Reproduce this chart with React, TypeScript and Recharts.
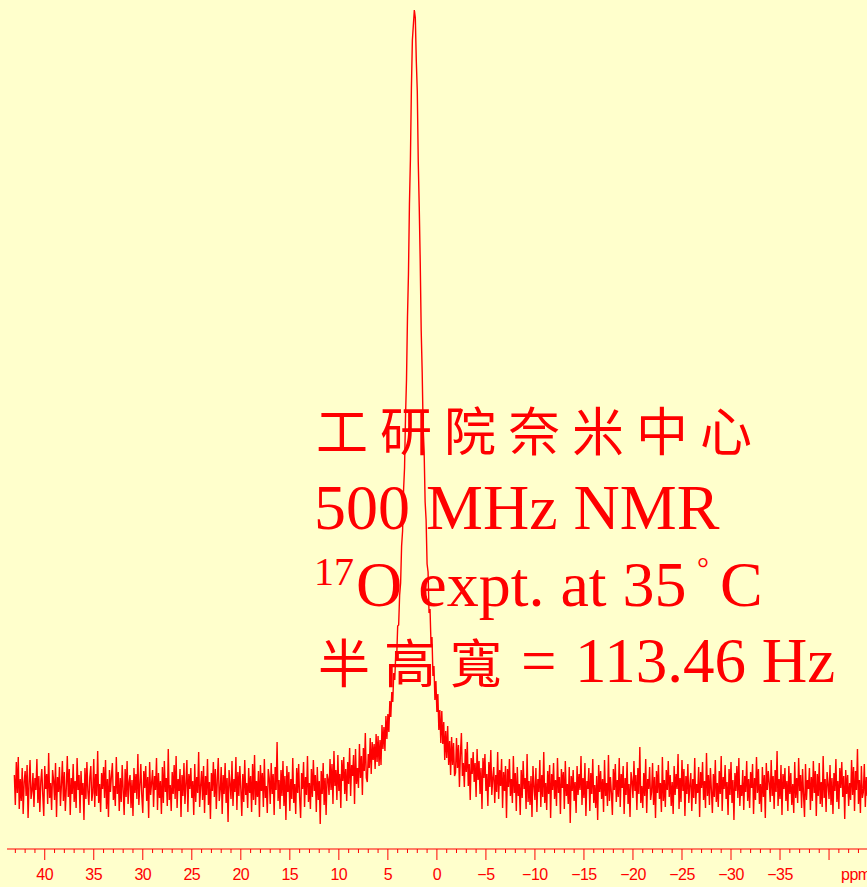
import { LineChart, Line, XAxis, YAxis } from 'recharts';

// 17O NMR spectrum, chemical shift axis in ppm (sampled every 0.1 ppm from 43.1 downwards)
const ppmStart = 43.1;
const ppmStep = 0.1;

// baseline noise, 43.1 .. 6.5 ppm
const noiseLeft = [
  12, -18, 25, -6, 30, -22, 8, -14, 19, -27, 5, 16, -9, 22, -31, 3, 27, -12, -4, 14,
  -20, 9, -3, 28, -16, 11, -25, 6, 18, -8, -29, 21, -2, 13, -17, 34, -11, 4, -23, 17,
  7, -13, 24, -30, 10, -5, 20, -19, 2, 26, -14, 15, -24, -1, 31, -10, 18, -28, 9, -7,
  23, -15, 6, -21, 29, -3, 12, -26, 16, -8, 4, -33, 19, -12, 25, -4, -18, 10, 21, -14,
  -6, 28, -20, 13, -9, 36, -16, 3, -25, 14, -2, 20, -11, 27, -22, 8, -30, 17, -5, 11,
  24, -13, 1, -19, 30, -7, 15, -24, 9, -15, 22, -3, -28, 18, -10, 26, -17, 5, 12, -21,
  7, -29, 19, -6, 13, -12, 33, -18, 2, 23, -9, -26, 16, -1, 21, -14, 10, -31, 25, -8,
  4, 17, -20, 11, -3, 29, -23, 14, -11, 6, -27, 20, -16, 26, -5, 9, -19, 38, -13, 2,
  -24, 15, -7, 22, -12, 31, -21, 8, -4, 18, -30, 12, -9, 24, -17, 3, 27, -25, 13, -2,
  19, -11, 6, -28, 23, -15, 10, -6, 35, -20, 1, 16, -13, 21, -26, 11, -8, 28, -18, 5,
  -32, 14, -4, 25, -10, 18, -22, 7, 29, -14, -3, 20, -27, 12, -7, 24, -16, 9, -35, 17,
  3, -12, 26, -19, 8, -5, 30, -23, 15, -9, 21, -2, -29, 13, -15, 27, -8, 4, -21, 19,
  -6, 11, -25, 23, -13, 32, -18, 6, -10, 16, -30, 22, -4, 14, -20, 28, -11, 1, -26, 18,
  9, -17, 24, -7, 13, -28, 20, -3, 45, -14, 7, -22, 17, -9, 26, -19, 11, -33, 21, -5,
  15, -24, 8, -12, 29, -16, 3, -27, 19, -6, 23, -11, -31, 14, -2, 25, -20, 10, -8, 31,
  -15, 4, -22, 18, -10, 27, -4, 12, -25, 20, -13, 6, -37, 16, -7, 24, -18, 9, -28, 13,
  8, -8, 28, -3, 23, -17, 36, 1, 17, -13, 32, -4, 13, -21, 27, 6, 30, -7, 18, -14,
  25, 3, 39, -9, 22, 11, 32, -17, 38, 3, 19, -1, 43, 9, 31, -8, 39, 16, 54, 9,
  5, 33, 19, 49, 13, 45, 27,
];

// the resonance, 6.4 .. -1.8 ppm
const peakBand = [
  43, 18, 53, 25, 51, 21, 47, 22, 62, 38, 60, 36, 71, 48, 73, 55, 86, 70, 95, 85,
  114, 107, 132, 130, 161, 162, 192, 204, 241, 256, 297, 319, 371, 407, 470, 513, 583, 628, 699, 747,
  762, 777,
  769, 726, 696, 625, 580, 525, 456, 415, 358, 335, 285, 267, 223, 215, 174, 178, 143, 150, 111, 121,
  87, 106, 75, 93, 57, 77, 44, 76, 43, 65, 27, 56, 29, 61, 22, 46, 12, 50, 22, 44,
  11,
];

// baseline noise, -1.9 .. -44.9 ppm
const noiseRight = [
  14, 49, 19, 42, 0, 33, 54, 11, 24, 0, 38, 15, 45, 1, 23, -13, 29, 13, 35, 5,
  24, -10, 38, 7, 26, -7, 19, -22, 29, 9, 33, -4, 13, -19, 25, 0, 37, -8, 9, 20,
  -16, 12, -5, 35, -12, 17, 1, 28, -21, 15, -4, 21, -31, 18, 0, 28, -9, 8, -16, 31,
  -6, 14, -24, 20, -9, 3, -28, 17, -11, 26, -2, 9, -22, 33, -15, 6, -18, 11, -30, 21,
  1, -13, 19, -25, 8, -5, 27, -20, 12, -10, 35, -16, 4, -23, 16, -7, 22, -31, 13, -3,
  24, -12, 7, -19, 29, -6, 10, -27, 18, -1, 15, -22, 26, -9, 3, -17, 20, -36, 11, -4,
  17, -14, 5, -26, 21, -8, 13, -3, 31, -18, 9, -11, 24, -29, 6, -2, 19, -24, 14, -7,
  28, -16, 2, -21, 11, -33, 22, -5, 16, -12, 8, -25, 27, -9, 4, -19, 32, -14, 10, -6,
  -28, 18, -3, 23, -15, 7, -10, 29, -20, 13, -1, 21, -27, 9, -8, 25, -17, 3, -30, 15,
  6, -11, 26, -4, 12, -23, 19, -7, 40, -16, 1, -21, 14, -9, 28, -26, 8, -2, 20, -13,
  -5, 24, -18, 10, -31, 16, -6, 22, -12, 4, -25, 30, -14, 7, -20, 17, -3, 26, -10, 12,
  -19, 5, -27, 21, -8, 13, -2, 33, -22, 9, -15, 27, -4, 18, -29, 11, -7, 23, -16, 2,
  14, -24, 8, -11, 29, -17, 3, -6, 20, -30, 15, -1, 25, -13, 6, -21, 34, -9, 12, -18,
  19, -3, -26, 13, -10, 27, -15, 4, -20, 16, -7, 31, -24, 10, -2, 22, -12, 5, -28, 18,
  -8, 25, -16, 7, -33, 14, -4, 21, -11, 29, -19, 2, -9, 17, -23, 11, -5, 26, -14, 8,
  -21, 15, -1, 23, -27, 9, -13, 30, -6, 18, -17, 3, -25, 20, -10, 12, -31, 24, -3, 16,
  4, -15, 27, -9, 11, -22, 17, -5, 36, -19, 8, -12, 22, -28, 13, -2, 19, -14, 6, -24,
  21, -7, 14, -18, 3, -26, 25, -11, 9, -16, 29, -4, 12, -21, 18, -8, -30, 23, -13, 7,
  -2, 19, -23, 10, -14, 26, -6, 16, -29, 13, -9, 24, -17, 5, -20, 31, -11, 8, -25, 15,
  3, -12, 22, -18, 9, -27, 14, -4, 28, -15, 6, -22, 19, -1, 25, -10, 11, -32, 17, -7,
  12, -19, 4, -13, 27, -8, 20, -24, 16, -3, 38, -17, 7, -26, 21, -11, -5, 23, -20, 10,
  -9, 18, -28, 13, -4, 24, -15, 6, -21, 16, -8,
];

// axis ticks: every ppm, labelled every 5 (the -40 slot carries the unit instead)
const tickValues = [
  43, 42, 41, 40, 39, 38, 37, 36, 35, 34, 33, 32, 31, 30, 29, 28, 27, 26, 25, 24, 23, 22,
  21, 20, 19, 18, 17, 16, 15, 14, 13, 12, 11, 10, 9, 8, 7, 6, 5, 4, 3, 2, 1, 0,
  -1, -2, -3, -4, -5, -6, -7, -8, -9, -10, -11, -12, -13, -14, -15, -16, -17, -18, -19, -20,
  -21, -22, -23, -24, -25, -26, -27, -28, -29, -30, -31, -32, -33, -34, -35, -36, -37, -38,
  -39, -40, -41, -42, -43,
];

const intensity = [...noiseLeft, ...peakBand, ...noiseRight];
const data = intensity.map((v, i) => ({ ppm: +(ppmStart - i * ppmStep).toFixed(2), v }));

const RED = '#ff0000';
const BG = '#ffffcc';

function PpmTick(props: any) {
  const { x, y, payload } = props;
  const v = payload.value as number;
  const major = v % 5 === 0;
  const label = v < 0 ? '\u2212' + Math.abs(v) : String(v);
  return (
    <g>
      <line x1={x} x2={x} y1={y} y2={y + (major ? 11 : 4)} stroke={RED} strokeWidth={1} />
      {major && v > -40 && (
        <text x={x} y={y + 31} textAnchor="middle" fill={RED} fontSize={16} fontFamily="Liberation Sans, Arial, sans-serif" letterSpacing={-0.5}>
          {label}
        </text>
      )}
      {v === -40 && (
        <text x={x + 12} y={y + 31} fill={RED} fontSize={16} fontFamily="Liberation Sans, Arial, sans-serif" letterSpacing={-0.5}>
          ppm
        </text>
      )}
    </g>
  );
}

export default function App() {
  const serif = 'Liberation Serif, Times New Roman, serif';
  const cjk = 'Noto Sans CJK TC, Noto Sans CJK SC, sans-serif';
  return (
    <div style={{ position: 'absolute', left: 0, top: 0, width: 867, height: 887, overflow: 'hidden', background: BG }}>
      <LineChart width={881} height={887} data={data} margin={{ top: 0, right: 0, bottom: 0, left: 7 }}>
        <XAxis
          type="number"
          dataKey="ppm"
          domain={[-45.3, 43.85]}
          reversed
          allowDataOverflow
          ticks={tickValues}
          interval={0}
          height={38}
          tickSize={0}
          tickMargin={0}
          tickLine={false}
          axisLine={{ stroke: RED }}
          tick={<PpmTick />}
        />
        <YAxis hide domain={[-62, 787]} allowDataOverflow />
        <Line type="linear" dataKey="v" stroke={RED} strokeWidth={1.4} dot={false} isAnimationActive={false} />
      </LineChart>
      <svg width={867} height={887} style={{ position: 'absolute', left: 0, top: 0, pointerEvents: 'none' }}>
        <text x={316} y={451} fill={RED} fontSize={52} letterSpacing={12} fontFamily={cjk}>
          工研院奈米中心
        </text>
        <text x={314} y={529} fill={RED} fontSize={64} fontFamily={serif}>
          500 MHz NMR
        </text>
        <text x={314} y={585} fill={RED} fontSize={40} fontFamily={serif}>
          17
        </text>
        <text x={356} y={606} fill={RED} fontSize={64} fontFamily={serif}>
          O expt. at 35
        </text>
        <text x={697} y={578} fill={RED} fontSize={30} fontFamily={serif}>
          °
        </text>
        <text x={720} y={606} fill={RED} fontSize={64} fontFamily={serif}>
          C
        </text>
        <text x={318} y={683} fill={RED} fontSize={52} letterSpacing={14} fontFamily={cjk}>
          半高寬
        </text>
        <text x={521} y={682} fill={RED} fontSize={63} fontFamily={serif}>
          =
        </text>
        <text x={575} y={682} fill={RED} fontSize={63} fontFamily={serif}>
          113.46 Hz
        </text>
      </svg>
    </div>
  );
}
